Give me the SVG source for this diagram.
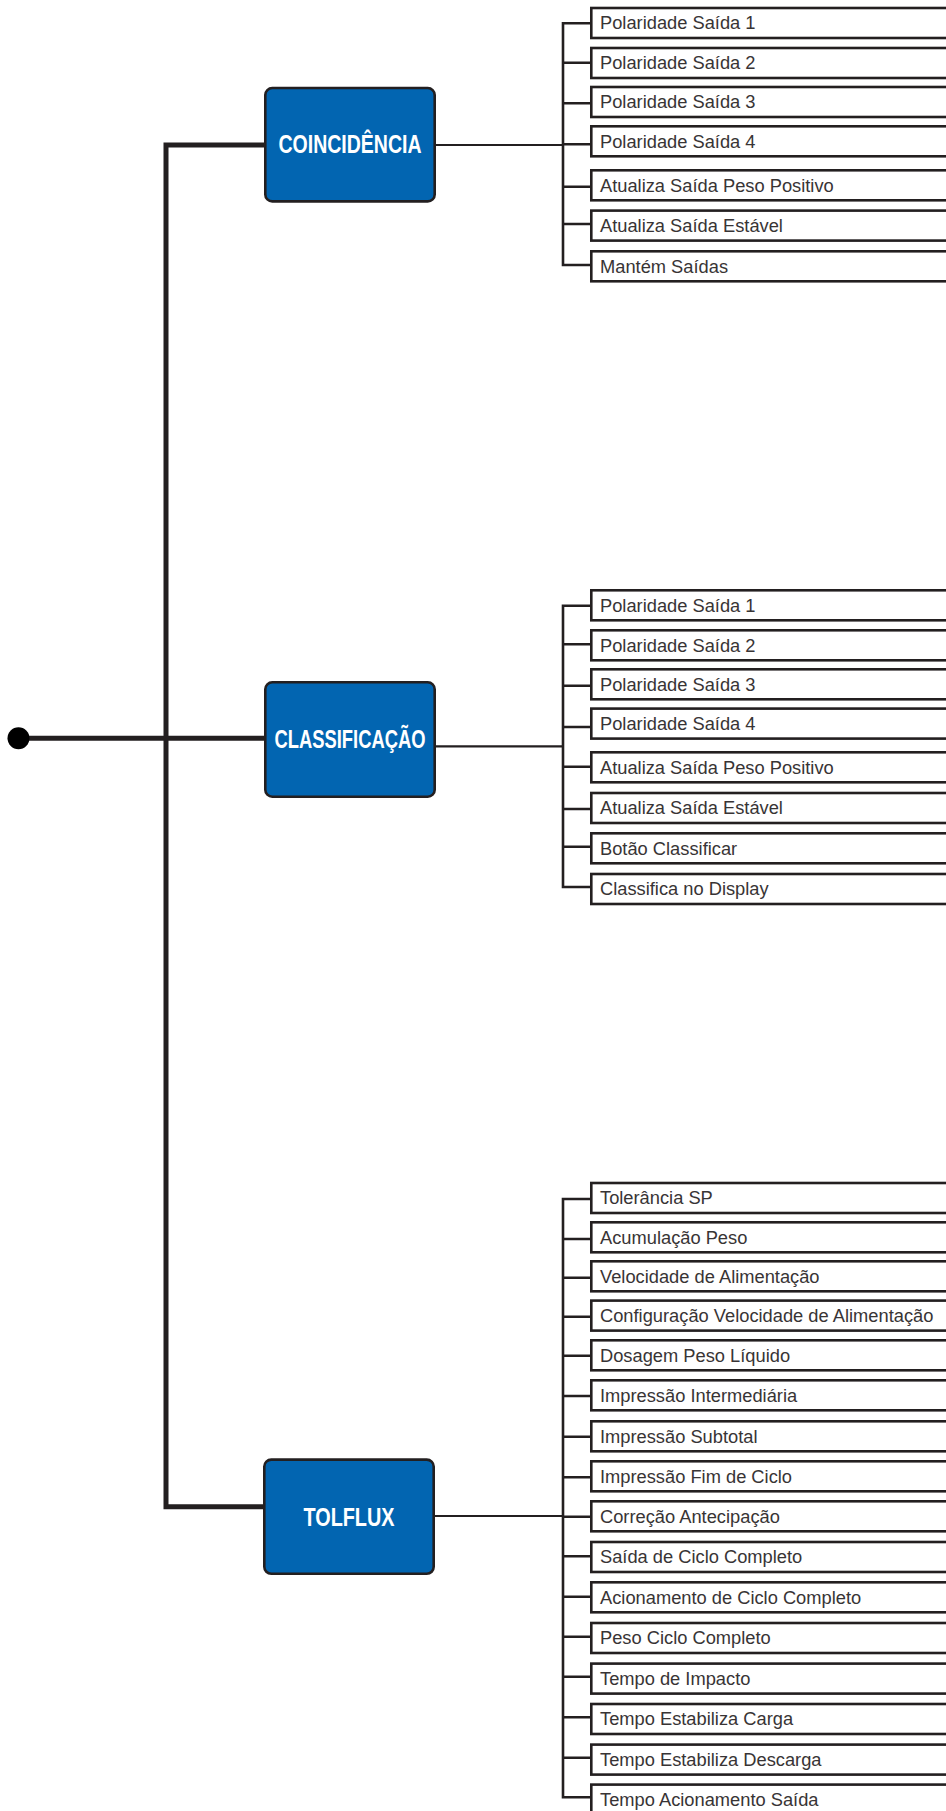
<svg xmlns="http://www.w3.org/2000/svg" width="946" height="1811" viewBox="0 0 946 1811">
  <style>
    .trunk { fill: none; stroke: #231f20; stroke-width: 5; stroke-linejoin: miter; }
    .link { fill: none; stroke: #231f20; stroke-width: 2.2; }
    .branch { fill: none; stroke: #231f20; stroke-width: 2.6; stroke-linejoin: miter; }
    .mode rect { fill: #0265b1; stroke: #231f20; stroke-width: 2.6; }
    .mode text { fill: #ffffff; font-family: "Liberation Sans", Arial, sans-serif; font-weight: bold; font-size: 25px; text-anchor: middle; }
    .leaf rect { fill: #ffffff; stroke: #231f20; stroke-width: 2.6; }
    .leaf text { fill: #383435; font-family: "Liberation Sans", Arial, sans-serif; font-size: 18.3px; }
  </style>

  <!-- connectors -->
  <g id="connectors">
    <!-- main trunk -->
    <path class="trunk" d="M265,145 H166 V1506.7 H264"/>
    <path class="trunk" d="M19,738.3 H265"/>
    <circle cx="18.5" cy="738.3" r="11" fill="#000000"/>

    <!-- mode to branch -->
    <path class="link" d="M436,145 H563"/>
    <path class="link" d="M436,746.3 H563"/>
    <path class="link" d="M435,1516 H563"/>

    <!-- coincidência branch -->
    <path class="branch" d="M591,23.3 H563 V265 H591"/>
    <path class="branch" d="M563,62.7 H591 M563,103.3 H591 M563,144.3 H591 M563,186.7 H591 M563,224 H591"/>

    <!-- classificação branch -->
    <path class="branch" d="M591,605.7 H563 V887 H591"/>
    <path class="branch" d="M563,644.3 H591 M563,685.7 H591 M563,727 H591 M563,766.7 H591 M563,809 H591 M563,846.7 H591"/>

    <!-- tolflux branch -->
    <path class="branch" d="M591,1199 H563 V1797.3 H591"/>
    <path class="branch" d="M563,1239 H591 M563,1277.7 H591 M563,1316.7 H591 M563,1355.7 H591 M563,1396 H591 M563,1436.7 H591 M563,1477.3 H591 M563,1516.7 H591 M563,1556.3 H591 M563,1596.7 H591 M563,1636.7 H591 M563,1676.7 H591 M563,1717.3 H591 M563,1757.7 H591"/>
  </g>

  <!-- mode nodes -->
  <g id="coincidencia" class="mode">
    <rect x="265.3" y="88" width="169.4" height="113.4" rx="7"/>
    <text x="350" y="153" textLength="143" lengthAdjust="spacingAndGlyphs">COINCIDÊNCIA</text>
  </g>
  <g id="classificacao" class="mode">
    <rect x="265.3" y="682.3" width="169.4" height="114.4" rx="7"/>
    <text x="350" y="747.8" textLength="151" lengthAdjust="spacingAndGlyphs">CLASSIFICAÇÃO</text>
  </g>
  <g id="tolflux" class="mode">
    <rect x="264.3" y="1459.6" width="169.4" height="114.2" rx="7"/>
    <text x="349" y="1525.5" textLength="91" lengthAdjust="spacingAndGlyphs">TOLFLUX</text>
  </g>

  <!-- coincidência options -->
  <g id="coin-1" class="leaf"><rect x="591.3" y="8" width="400" height="30"/><text x="600" y="29.3">Polaridade Saída 1</text></g>
  <g id="coin-2" class="leaf"><rect x="591.3" y="48" width="400" height="30"/><text x="600" y="69.3">Polaridade Saída 2</text></g>
  <g id="coin-3" class="leaf"><rect x="591.3" y="87" width="400" height="30"/><text x="600" y="108.3">Polaridade Saída 3</text></g>
  <g id="coin-4" class="leaf"><rect x="591.3" y="126.3" width="400" height="30"/><text x="600" y="147.6">Polaridade Saída 4</text></g>
  <g id="coin-5" class="leaf"><rect x="591.3" y="170.3" width="400" height="30"/><text x="600" y="191.6">Atualiza Saída Peso Positivo</text></g>
  <g id="coin-6" class="leaf"><rect x="591.3" y="210.6" width="400" height="30"/><text x="600" y="231.9">Atualiza Saída Estável</text></g>
  <g id="coin-7" class="leaf"><rect x="591.3" y="251.3" width="400" height="30"/><text x="600" y="272.6">Mantém Saídas</text></g>

  <!-- classificação options -->
  <g id="class-1" class="leaf"><rect x="591.3" y="590.3" width="400" height="30"/><text x="600" y="611.6">Polaridade Saída 1</text></g>
  <g id="class-2" class="leaf"><rect x="591.3" y="630.3" width="400" height="30"/><text x="600" y="651.6">Polaridade Saída 2</text></g>
  <g id="class-3" class="leaf"><rect x="591.3" y="669.3" width="400" height="30"/><text x="600" y="690.6">Polaridade Saída 3</text></g>
  <g id="class-4" class="leaf"><rect x="591.3" y="708.6" width="400" height="30"/><text x="600" y="729.9">Polaridade Saída 4</text></g>
  <g id="class-5" class="leaf"><rect x="591.3" y="752.3" width="400" height="30"/><text x="600" y="773.6">Atualiza Saída Peso Positivo</text></g>
  <g id="class-6" class="leaf"><rect x="591.3" y="793" width="400" height="30"/><text x="600" y="814.3">Atualiza Saída Estável</text></g>
  <g id="class-7" class="leaf"><rect x="591.3" y="833.3" width="400" height="30"/><text x="600" y="854.6">Botão Classificar</text></g>
  <g id="class-8" class="leaf"><rect x="591.3" y="874" width="400" height="30"/><text x="600" y="895.3">Classifica no Display</text></g>

  <!-- tolflux options -->
  <g id="tol-1" class="leaf"><rect x="591.3" y="1183" width="400" height="30"/><text x="600" y="1204.3">Tolerância SP</text></g>
  <g id="tol-2" class="leaf"><rect x="591.3" y="1222.3" width="400" height="30"/><text x="600" y="1243.6">Acumulação Peso</text></g>
  <g id="tol-3" class="leaf"><rect x="591.3" y="1261.3" width="400" height="30"/><text x="600" y="1282.6">Velocidade de Alimentação</text></g>
  <g id="tol-4" class="leaf"><rect x="591.3" y="1300.6" width="400" height="30"/><text x="600" y="1321.9">Configuração Velocidade de Alimentação</text></g>
  <g id="tol-5" class="leaf"><rect x="591.3" y="1340.3" width="400" height="30"/><text x="600" y="1361.6">Dosagem Peso Líquido</text></g>
  <g id="tol-6" class="leaf"><rect x="591.3" y="1380.3" width="400" height="30"/><text x="600" y="1401.6">Impressão Intermediária</text></g>
  <g id="tol-7" class="leaf"><rect x="591.3" y="1421.3" width="400" height="30"/><text x="600" y="1442.6">Impressão Subtotal</text></g>
  <g id="tol-8" class="leaf"><rect x="591.3" y="1461.3" width="400" height="30"/><text x="600" y="1482.6">Impressão Fim de Ciclo</text></g>
  <g id="tol-9" class="leaf"><rect x="591.3" y="1501.3" width="400" height="30"/><text x="600" y="1522.6">Correção Antecipação</text></g>
  <g id="tol-10" class="leaf"><rect x="591.3" y="1542" width="400" height="30"/><text x="600" y="1563.3">Saída de Ciclo Completo</text></g>
  <g id="tol-11" class="leaf"><rect x="591.3" y="1582.3" width="400" height="30"/><text x="600" y="1603.6">Acionamento de Ciclo Completo</text></g>
  <g id="tol-12" class="leaf"><rect x="591.3" y="1623" width="400" height="30"/><text x="600" y="1644.3">Peso Ciclo Completo</text></g>
  <g id="tol-13" class="leaf"><rect x="591.3" y="1663.6" width="400" height="30"/><text x="600" y="1684.9">Tempo de Impacto</text></g>
  <g id="tol-14" class="leaf"><rect x="591.3" y="1704" width="400" height="30"/><text x="600" y="1725.3">Tempo Estabiliza Carga</text></g>
  <g id="tol-15" class="leaf"><rect x="591.3" y="1744.6" width="400" height="30"/><text x="600" y="1765.9">Tempo Estabiliza Descarga</text></g>
  <g id="tol-16" class="leaf"><rect x="591.3" y="1784.6" width="400" height="30"/><text x="600" y="1805.9">Tempo Acionamento Saída</text></g>
</svg>
